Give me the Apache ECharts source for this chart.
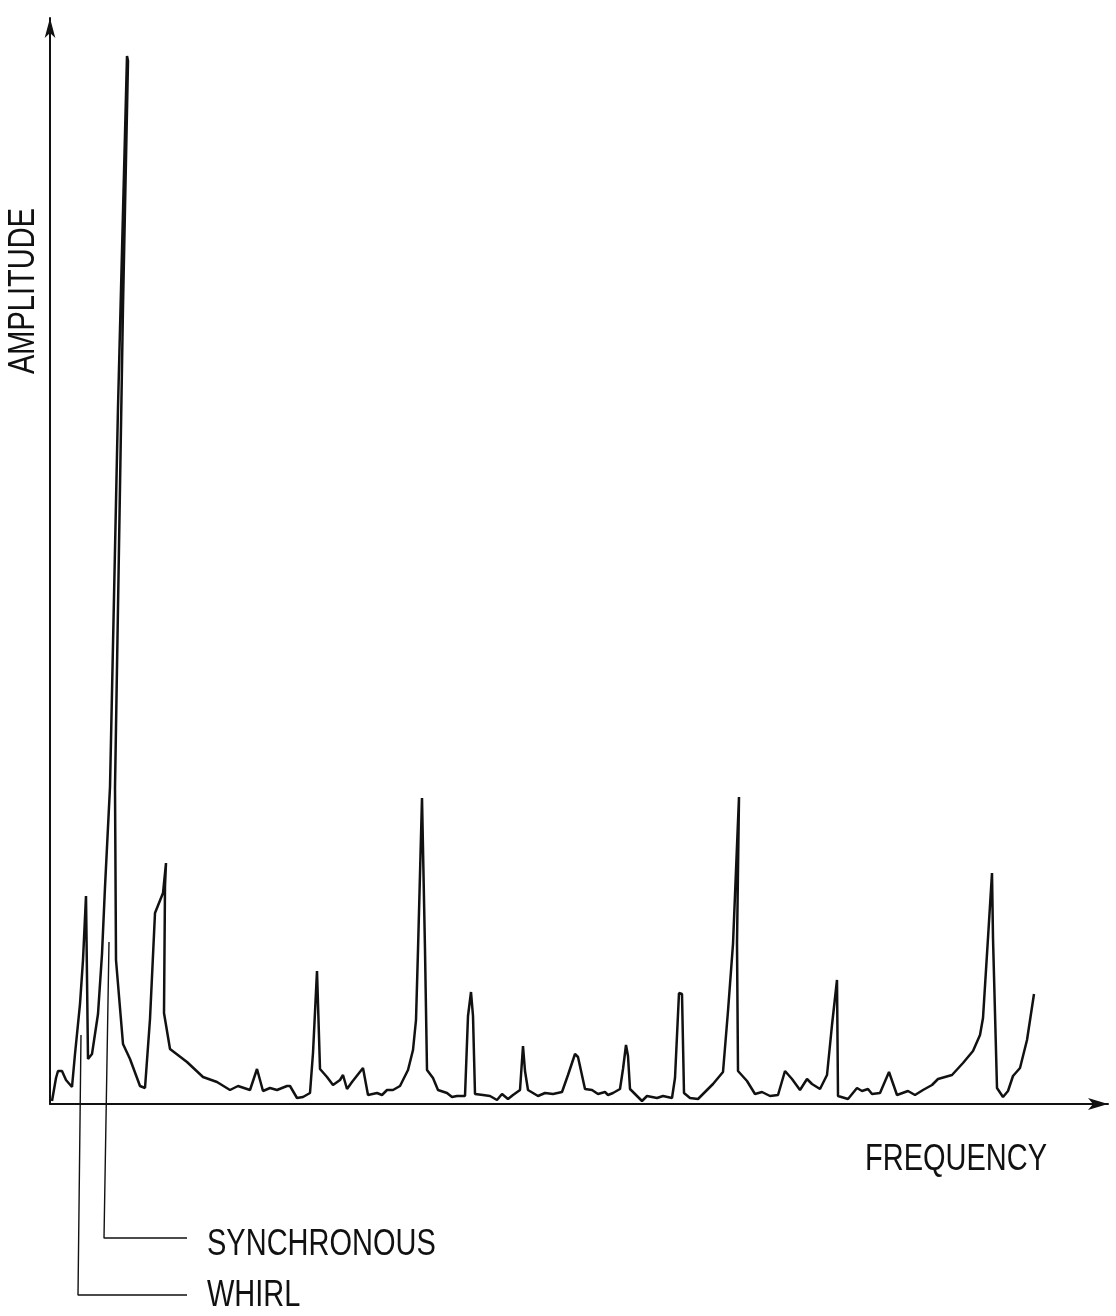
<!DOCTYPE html>
<html>
<head>
<meta charset="utf-8">
<script src="https://cdn.jsdelivr.net/npm/echarts@6/dist/echarts.min.js"></script>
<style>
  html, body { margin: 0; padding: 0; background: #fff; }
  #chart { width: 1116px; height: 1316px; }
</style>
</head>
<body>
<div id="chart"></div>
<script>
// Frequency positions (arbitrary units) of the traced spectrum
var freq = [52,56,58,62,66,72,75,80,83,86,87,88,92,95,98,102,105,110,118,127,128,123,115,116,123,130,140,145,150,155,163,166,165,164,170,187,203,217,230,238,250,257,263,270,277,287,290,297,303,310,313,317,320,327,333,340,343,347,352,363,368,377,382,387,393,400,408,413,416,418,422,425,427,433,438,447,452,457,465,468,471,473,475,483,490,497,502,508,513,520,523,525,528,538,545,553,562,568,575,578,585,592,598,605,608,613,620,623,626,628,630,637,642,647,657,663,672,675,679,682,684,690,698,705,713,723,728,733,739,737,738,747,755,762,770,778,785,792,800,807,812,820,827,832,837,838,848,857,862,868,872,880,889,897,908,915,923,932,938,952,963,973,980,983,988,992,993,997,1003,1008,1013,1020,1027,1034];
// Amplitudes (arbitrary units)
var amp = [3,26,33,33,24,17,50,100,144,208,207,45,50,70,90,150,217,317,697,1048,1043,798,317,144,60,45,18,16,85,191,211,241,218,91,55,42,27,22,14,18,14,35,13,16,14,18,18,6,7,11,51,133,35,27,19,24,29,15,22,36,9,11,9,14,14,18,34,54,84,154,306,154,34,26,14,11,7,8,8,88,112,88,10,9,8,4,10,5,9,14,58,33,14,8,11,10,12,29,50,47,15,14,10,12,9,11,15,35,59,48,15,8,3,8,6,8,6,26,111,110,11,6,5,12,20,32,93,160,307,161,33,23,10,12,8,9,33,25,14,25,20,15,29,79,124,8,5,16,13,15,10,11,32,9,13,9,14,19,25,29,41,53,69,86,166,231,166,16,7,13,28,36,64,110];

// Leader lines for the annotations
var syncLeaderX = [109, 104, 187];
var syncLeaderY = [162, -134, -134];
var whirlLeaderX = [81, 78, 187];
var whirlLeaderY = [69, -191, -191];

// Texts
var yAxisTitle = 'AMPLITUDE';
var xAxisTitle = 'FREQUENCY';
var syncLabel = 'SYNCHRONOUS';
var whirlLabel = 'WHIRL';

function pairs(xs, ys) {
  var out = [];
  for (var i = 0; i < xs.length; i++) out.push([xs[i], ys[i]]);
  return out;
}

var chart = echarts.init(document.getElementById('chart'), null, { renderer: 'canvas' });

var textStyleBase = {
  fontFamily: 'Liberation Sans, Arial, sans-serif',
  fontSize: 29,
  fill: '#111'
};

chart.setOption({
  backgroundColor: '#ffffff',
  animation: false,
  grid: { left: 50, right: 8, top: 18, bottom: 212, containLabel: false },
  xAxis: {
    type: 'value',
    min: 50,
    max: 1108,
    axisLine: {
      show: true,
      onZero: false,
      symbol: ['none', 'arrow'],
      symbolSize: [9, 20],
      lineStyle: { color: '#111', width: 2 }
    },
    axisTick: { show: false },
    axisLabel: { show: false },
    splitLine: { show: false }
  },
  yAxis: {
    type: 'value',
    min: 0,
    max: 1086,
    axisLine: {
      show: true,
      onZero: false,
      symbol: ['none', 'arrow'],
      symbolSize: [8, 20],
      lineStyle: { color: '#111', width: 2 }
    },
    axisTick: { show: false },
    axisLabel: { show: false },
    splitLine: { show: false }
  },
  series: [
    {
      type: 'line',
      data: pairs(freq, amp),
      symbol: 'none',
      smooth: false,
      lineStyle: { color: '#111', width: 2.5 },
      clip: false,
      z: 3
    },
    {
      type: 'line',
      data: pairs(syncLeaderX, syncLeaderY),
      symbol: 'none',
      lineStyle: { color: '#111', width: 1.4 },
      clip: false,
      z: 2
    },
    {
      type: 'line',
      data: pairs(whirlLeaderX, whirlLeaderY),
      symbol: 'none',
      lineStyle: { color: '#111', width: 1.4 },
      clip: false,
      z: 2
    }
  ],
  graphic: [
    {
      type: 'text', x: 24, y: 291, rotation: Math.PI / 2, scaleY: 1.25,
      style: Object.assign({}, textStyleBase, { text: yAxisTitle, textAlign: 'center', textVerticalAlign: 'middle' })
    },
    {
      type: 'text', x: 865, y: 1160, scaleY: 1.25,
      style: Object.assign({}, textStyleBase, { text: xAxisTitle, textAlign: 'left', textVerticalAlign: 'middle' })
    },
    {
      type: 'text', x: 207, y: 1245, scaleY: 1.25,
      style: Object.assign({}, textStyleBase, { text: syncLabel, textAlign: 'left', textVerticalAlign: 'middle' })
    },
    {
      type: 'text', x: 207, y: 1296, scaleY: 1.25,
      style: Object.assign({}, textStyleBase, { text: whirlLabel, textAlign: 'left', textVerticalAlign: 'middle' })
    }
  ]
});
</script>
</body>
</html>
